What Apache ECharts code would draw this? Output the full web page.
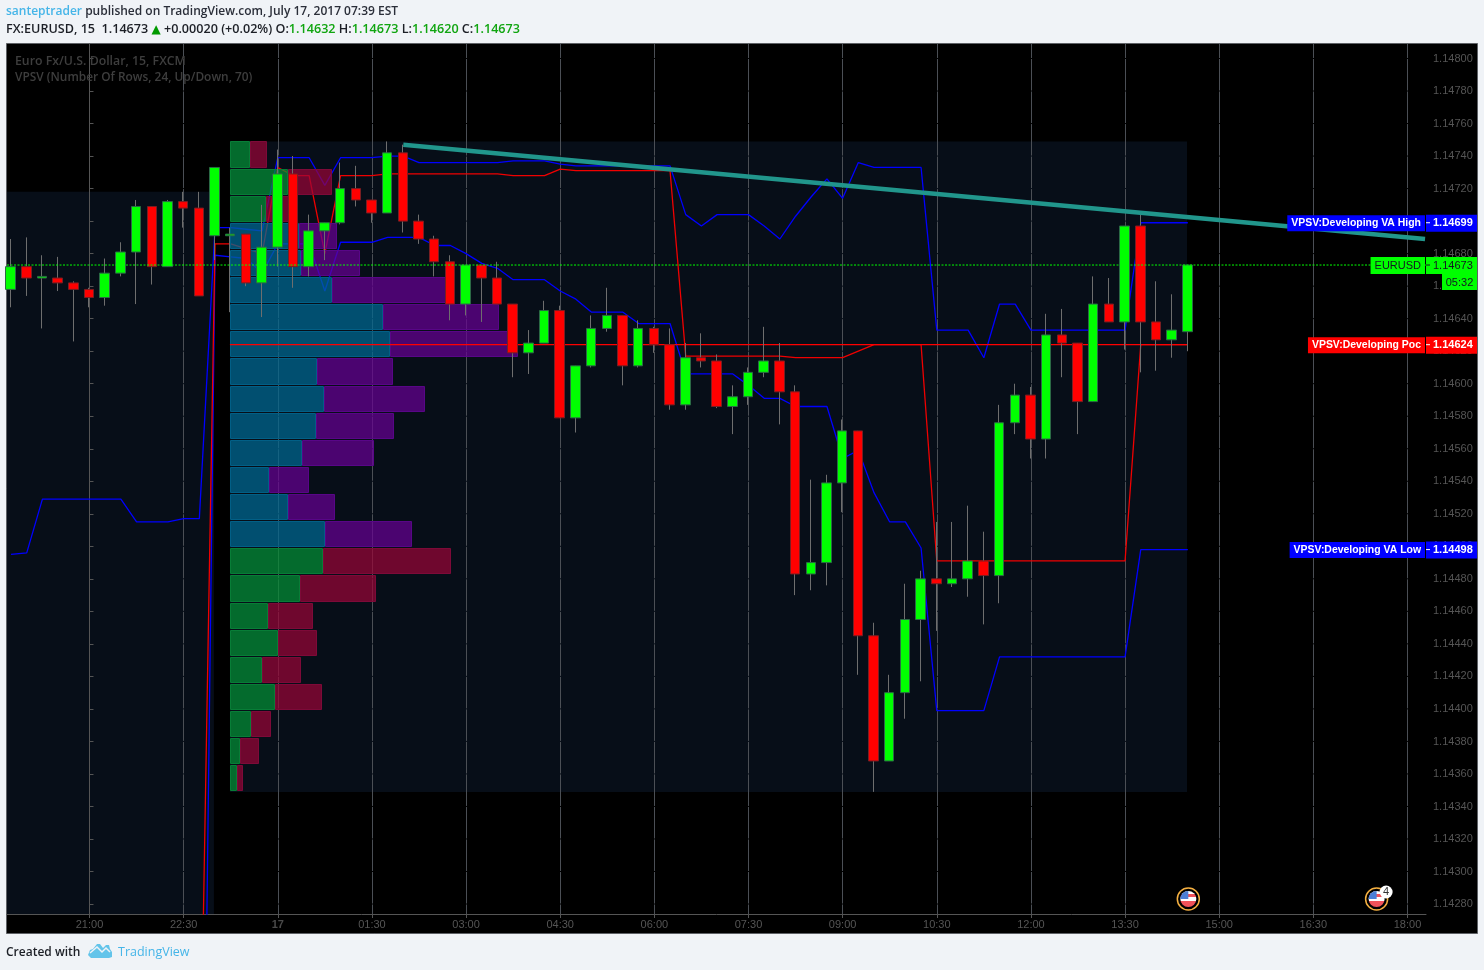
<!DOCTYPE html>
<html>
<head>
<meta charset="utf-8">
<style>html,body{margin:0;padding:0;background:#f0f3f7;}#c{width:1484px;height:970px;}</style>
<script src="https://cdn.jsdelivr.net/npm/echarts@6/dist/echarts.min.js"></script>
</head>
<body>
<div id="c"></div>
<script>
const firstBar = -5; // bar 0 is the 21:00 candle, bars are 15 minutes apart
const opens = [1.14658,1.14672,1.14665,1.14665,1.14662,1.14658,1.14653,1.14668,1.14681,1.14709,1.14672,1.14712,1.14708,1.14691,1.14691,1.14692,1.14662,1.14684,1.14729,1.14672,1.14694,1.14699,1.14720,1.14713,1.14705,1.14742,1.14700,1.14689,1.14675,1.14649,1.14673,1.14665,1.14649,1.14619,1.14625,1.14645,1.14579,1.14611,1.14634,1.14642,1.14611,1.14634,1.14624,1.14587,1.14616,1.14614,1.14586,1.14592,1.14607,1.14614,1.14595,1.14483,1.14490,1.14539,1.14571,1.14445,1.14368,1.14410,1.14455,1.14480,1.14477,1.14480,1.14491,1.14482,1.14576,1.14593,1.14566,1.14630,1.14625,1.14589,1.14649,1.14638,1.14697,1.14638,1.14627,1.14632];
const closes = [1.14672,1.14665,1.14666,1.14662,1.14658,1.14653,1.14668,1.14681,1.14709,1.14672,1.14712,1.14708,1.14654,1.14733,1.14692,1.14662,1.14684,1.14729,1.14672,1.14694,1.14699,1.14720,1.14713,1.14705,1.14742,1.14700,1.14689,1.14675,1.14649,1.14673,1.14665,1.14649,1.14619,1.14625,1.14645,1.14579,1.14611,1.14634,1.14642,1.14611,1.14634,1.14624,1.14587,1.14616,1.14614,1.14586,1.14592,1.14607,1.14614,1.14595,1.14483,1.14490,1.14539,1.14571,1.14445,1.14368,1.14410,1.14455,1.14480,1.14477,1.14480,1.14491,1.14482,1.14576,1.14593,1.14566,1.14630,1.14625,1.14589,1.14649,1.14638,1.14697,1.14638,1.14627,1.14633,1.14673];
const lows = [1.14647,1.14654,1.14634,1.14657,1.14626,1.14647,1.14648,1.14666,1.14649,1.14661,1.14672,1.14696,1.14654,1.14676,1.14644,1.14660,1.14641,1.14672,1.14659,1.14666,1.14676,1.14698,1.14709,1.14699,1.14705,1.14693,1.14686,1.14666,1.14639,1.14642,1.14638,1.14649,1.14604,1.14606,1.14625,1.14579,1.14570,1.14610,1.14632,1.14599,1.14610,1.14619,1.14584,1.14584,1.14610,1.14585,1.14569,1.14587,1.14604,1.14575,1.14470,1.14473,1.14476,1.14521,1.14421,1.14349,1.14368,1.14394,1.14417,1.14448,1.14475,1.14469,1.14452,1.14465,1.14569,1.14554,1.14554,1.14604,1.14569,1.14589,1.14638,1.14621,1.14607,1.14608,1.14616,1.14620];
const highs = [1.14689,1.14690,1.14679,1.14678,1.14663,1.14659,1.14677,1.14687,1.14713,1.14709,1.14713,1.14718,1.14718,1.14733,1.14696,1.14692,1.14710,1.14744,1.14740,1.14704,1.14699,1.14736,1.14734,1.14713,1.14749,1.14747,1.14704,1.14691,1.14679,1.14673,1.14673,1.14675,1.14649,1.14633,1.14651,1.14648,1.14611,1.14642,1.14659,1.14642,1.14639,1.14635,1.14634,1.14625,1.14631,1.14618,1.14599,1.14610,1.14635,1.14625,1.14599,1.14541,1.14544,1.14578,1.14571,1.14453,1.14421,1.14477,1.14485,1.14515,1.14515,1.14525,1.14509,1.14587,1.14600,1.14598,1.14643,1.14646,1.14625,1.14666,1.14665,1.14697,1.14704,1.14663,1.14655,1.14673];

const vaHigh = [1.14495,1.14496,1.14529,1.14529,1.14529,1.14529,1.14529,1.14529,1.14515,1.14515,1.14515,1.14517,1.14517,1.14696,1.14696,1.14695,1.14694,1.14739,1.14739,1.14739,1.14722,1.14739,1.14739,1.14739,1.14740,1.14740,1.14736,1.14736,1.14736,1.14736,1.14736,1.14736,1.14737,1.14737,1.14737,1.14735,1.14734,1.14734,1.14734,1.14734,1.14734,1.14734,1.14734,1.14704,1.14697,1.14704,1.14704,1.14704,1.14697,1.14689,1.14703,1.14715,1.14726,1.14714,1.14736,1.14733,1.14733,1.14733,1.14733,1.14633,1.14633,1.14633,1.14616,1.14649,1.14649,1.14633,1.14633,1.14633,1.14633,1.14633,1.14633,1.14633,1.14699,1.14699,1.14699,1.14699];
const vaLow = [null,null,null,null,null,null,null,null,null,null,null,null,1.13897,1.14679,1.14678,1.14677,1.14668,1.14686,1.14686,1.14686,1.14657,1.14687,1.14687,1.14687,1.14690,1.14690,1.14690,1.14685,1.14685,1.14680,1.14674,1.14671,1.14664,1.14664,1.14664,1.14657,1.14652,1.14644,1.14644,1.14644,1.14637,1.14637,1.14637,1.14606,1.14606,1.14606,1.14606,1.14599,1.14591,1.14591,1.14586,1.14586,1.14586,1.14554,1.14559,1.14533,1.14515,1.14515,1.14499,1.14399,1.14399,1.14399,1.14399,1.14432,1.14432,1.14432,1.14432,1.14432,1.14432,1.14432,1.14432,1.14432,1.14498,1.14498,1.14498,1.14498];
const pocLine = [null,null,null,null,null,null,null,null,null,null,null,null,1.14129,1.14686,1.14686,1.14683,1.14680,1.14733,1.14728,1.14728,1.14680,1.14728,1.14728,1.14728,1.14729,1.14729,1.14729,1.14729,1.14729,1.14729,1.14729,1.14729,1.14728,1.14728,1.14728,1.14732,1.14731,1.14731,1.14731,1.14731,1.14731,1.14731,1.14731,1.14617,1.14617,1.14617,1.14617,1.14617,1.14617,1.14617,1.14616,1.14616,1.14616,1.14616,1.14620,1.14624,1.14624,1.14624,1.14624,1.14491,1.14491,1.14491,1.14491,1.14491,1.14491,1.14491,1.14491,1.14491,1.14491,1.14491,1.14491,1.14491,1.14624,1.14624,1.14624,1.14624];

// Volume profile, 24 rows from the top of the session range downward
const vpTop = 1.14749, vpRowHeight = 0.0001668;
const vpUp = [20,58,36,69,71,102,153,160,87,94,86,72,39,58,95,93,70,38,48,32,45,21,10,7];
const vpDown = [17,44,30,38,59,115,116,128,76,101,78,72,40,47,87,128,76,45,39,39,47,20,19,6];
const vaFirstRow = 3, vaLastRow = 14;
const vpStartBar = 8.95, vpEndBar = 69.95;
const vpBottom = 1.14349, pocPrice = 1.14624;

const priorStartBar = -6, priorEndBar = 7.93, priorTop = 1.14718;
const trendBars = [20, 85.12], trendPrices = [1.14747, 1.14689];
const lastPrice = 1.14673;

const timeTicks = [0,6,12,18,24,30,36,42,48,54,60,66,72,78,84];
const timeLabels = ['21:00','22:30','17','01:30','03:00','04:30','06:00','07:30','09:00','10:30','12:00','13:30','15:00','16:30','18:00'];
const priceTicks = [1.1428,1.143,1.1432,1.1434,1.1436,1.1438,1.144,1.1442,1.1444,1.1446,1.1448,1.145,1.1452,1.1454,1.1456,1.1458,1.146,1.1462,1.1464,1.1466,1.1468,1.147,1.1472,1.1474,1.1476,1.1478,1.148];

const tagPrices = [1.14699, 1.14624, 1.14498, 1.14673];
const tagNames = ['VPSV:Developing VA High','VPSV:Developing Poc','VPSV:Developing VA Low','EURUSD'];
const tagFills = ['#0000ff','#ff0000','#0000ff','#00ff00'];
const tagInks = ['#ffffff','#ffffff','#ffffff','#131722'];
const countdown = '05:32';

const eventBars = [70, 82], eventCounts = [1, 4];

const AXIS = '#555555', LABEL = '#555555', ARIAL = '"Liberation Sans", Arial, sans-serif', OPEN = '"Open Sans", sans-serif';
const candleNudge = -0.03;
const barIdx = opens.map((_, k) => k + firstBar);
const pairs = arr => arr.map((v, k) => [barIdx[k], v]);
const rgba = {g:['rgba(4,144,54,.72)','#087d37'], r:['rgba(152,5,55,.72)','#7d0a38'], b:['rgba(0,105,147,.72)','#025f86'], p:['rgba(103,1,147,.72)','#580687']};

const chart = echarts.init(document.getElementById('c'), null, {renderer:'canvas'});

function line(name, data, color, z, width, type) {
  return {name, type:'line', data, z, showSymbol:false, symbol:'none', silent:true, animation:false,
    lineStyle:{color, width:width||1, type:type||'solid'}};
}

const option = {
  animation:false,
  backgroundColor:'#f0f3f7',
  grid:{left:7, top:44, width:1419, height:870, show:false},
  xAxis:[{
    type:'value', min:-5.258, max:85.18, z:1,
    axisLine:{onZero:false, lineStyle:{color:AXIS}},
    axisTick:{show:true, length:4, customValues:timeTicks, lineStyle:{color:AXIS}},
    axisLabel:{margin:5, color:LABEL, fontFamily:ARIAL, fontSize:11, customValues:timeTicks,
      formatter:v => { const s = timeLabels[timeTicks.indexOf(Math.round(v))]; return s === '17' ? '{b|17}' : s; },
      rich:{b:{fontWeight:'bold', color:'#4a4a4a', fontFamily:ARIAL, fontSize:11}}},
    splitLine:{show:true, lineStyle:{color:'#4b4f55', width:1, type:[31.52,1], dashOffset:17.52}}
  },{
    type:'value', min:-223, max:1196, show:false, splitLine:{show:false}
  }],
  yAxis:[{
    type:'value', position:'right', min:1.142739, max:1.1480892, z:1,
    axisLine:{show:true, lineStyle:{color:AXIS}},
    axisTick:{show:true, length:4, customValues:priceTicks, lineStyle:{color:AXIS}},
    axisLabel:{margin:7, color:LABEL, fontFamily:ARIAL, fontSize:11, customValues:priceTicks, padding:[2,0,0,0], formatter:v => v.toFixed(5)},
    splitLine:{show:false}
  }],
  graphic:{elements:[
    {type:'rect', z:-10, silent:true, shape:{x:6.5,y:43.5,width:1471,height:890}, style:{fill:'#000', stroke:'#5e6166', lineWidth:1}},
    {type:'text', z:1, silent:true, x:6, y:12, style:{verticalAlign:'middle', text:'{a|santeptrader}{t| published on TradingView.com, July 17, 2017 07:39 EST}',
      rich:{a:{fontFamily:OPEN, fontSize:12, fontWeight:600, fill:'#45b5e8'}, t:{fontFamily:OPEN, fontSize:12, fontWeight:600, fill:'#2a2e39'}}}},
    {type:'text', z:1, silent:true, x:6, y:29.5, style:{verticalAlign:'middle',
      text:'{t|FX:EURUSD, 15  1.14673 }{u|▲}{t| +0.00020 (+0.02%) O:}{g|1.14632}{t| H:}{g|1.14673}{t| L:}{g|1.14620}{t| C:}{g|1.14673}',
      rich:{t:{fontFamily:OPEN, fontSize:12.6, fontWeight:600, fill:'#1c1f26'}, g:{fontFamily:OPEN, fontSize:12.6, fontWeight:600, fill:'#10a510'}, u:{fontFamily:'"DejaVu Sans"', fontSize:12, fill:'#009a00'}}}},
    {type:'text', z:2, silent:true, x:15, y:61, style:{text:'Euro Fx/U.S. Dollar, 15, FXCM', verticalAlign:'middle', fontFamily:OPEN, fontSize:12.3, fontWeight:600, fill:'#3e3e3e'}},
    {type:'text', z:2, silent:true, x:15, y:78, style:{text:'VPSV (Number Of Rows, 24, Up/Down, 70)', verticalAlign:'middle', fontFamily:OPEN, fontSize:11.9, fontWeight:600, fill:'#3e3e3e'}},
    {type:'text', z:1, silent:true, x:6, y:952.5, style:{text:'Created with', verticalAlign:'middle', fontFamily:OPEN, fontSize:12, fontWeight:600, fill:'#1c1f26'}},
    {type:'text', z:1, silent:true, x:118, y:952.5, style:{text:'TradingView', verticalAlign:'middle', fontFamily:OPEN, fontSize:12.5, fontWeight:500, fill:'#45b5e8'}},
    {type:'polygon', z:1, silent:true, shape:{points:[[88,955],[90,950],[93,949],[97,944],[100,944],[103,948],[106,945],[109,945],[110,949],[112,952],[112,957],[109,958],[91,958]]}, style:{fill:'#63c4ea'}},
    {type:'polyline', z:2, silent:true, shape:{points:[[90,953],[97,947],[102,952],[106,948],[110,952]]}, style:{fill:'none', stroke:'#f0f3f7', lineWidth:1.5}}
  ]},
  series:[
    // session background panels
    {type:'custom', name:'panels', z:0, silent:true, clip:true,
      data:[[priorStartBar, priorEndBar, priorTop, 1.142],[vpStartBar, vpEndBar, vpTop, vpBottom]],
      renderItem:(p, api) => {
        const a = api.coord([api.value(0), api.value(2)]), b = api.coord([api.value(1), api.value(3)]);
        const cs = p.coordSys, x0 = Math.max(a[0], cs.x), y1 = Math.min(b[1], cs.y + cs.height);
        return {type:'rect', shape:{x:x0, y:a[1], width:b[0]-x0, height:y1-a[1]}, style:{fill:'#070e18'}};
      }},
    line('VA High', pairs(vaHigh), '#0000ff', 2, 1.3),
    line('VA Low', pairs(vaLow), '#0000ff', 2, 1.3),
    line('POC', pairs(pocLine), '#f00000', 2, 1.3),
    // volume profile rows, measured on the hidden volume axis
    {type:'custom', name:'Volume profile', z:3, silent:true, xAxisIndex:1, yAxisIndex:0, clip:false,
      data:vpUp.map((u, k) => [u, vpDown[k], vpTop - k*vpRowHeight, vpTop - (k+1)*vpRowHeight]),
      renderItem:(p, api) => {
        const k = p.dataIndex, inVA = k >= vaFirstRow && k <= vaLastRow;
        const up = api.value(0), dn = api.value(1);
        const t = api.coord([0, api.value(2)]), u = api.coord([up, api.value(3)]), d = api.coord([up + dn, api.value(3)]);
        const L = Math.round(t[0]), T = Math.round(t[1]), B = Math.round(u[1]);
        const upC = inVA ? rgba.b : rgba.g, dnC = inVA ? rgba.p : rgba.r;
        return {type:'group', children:[
          {type:'rect', shape:{x:L+.5, y:T+.5, width:Math.round(u[0])-L-1, height:B-T-2}, style:{fill:upC[0], stroke:upC[1], lineWidth:1}},
          {type:'rect', shape:{x:Math.round(u[0])+.5, y:T+.5, width:Math.round(d[0])-Math.round(u[0])-1, height:B-T-2}, style:{fill:dnC[0], stroke:dnC[1], lineWidth:1}}
        ]};
      }},
    line('Developing POC row', [[vpStartBar,pocPrice],[vpEndBar,pocPrice]], '#ff0000', 4, 1.2),
    // wicks
    {type:'candlestick', name:'EURUSD wicks', z:5, silent:true, barWidth:1,
      data:opens.map((o, k) => [barIdx[k]+candleNudge, o, closes[k], lows[k], highs[k]]),
      itemStyle:{color:'#6e6e6e', color0:'#6e6e6e', borderColor:'#6e6e6e', borderColor0:'#6e6e6e', borderWidth:1}},
    // bodies
    {type:'candlestick', name:'EURUSD', z:6, silent:true, barWidth:10,
      data:opens.map((o, k) => [barIdx[k]+candleNudge, o, closes[k], Math.min(o, closes[k]), Math.max(o, closes[k])]),
      itemStyle:{color:'#00ff00', color0:'#ff0000', borderColor:'#2b6a45', borderColor0:'#7a1e22', borderWidth:1}},
    line('Last price', [[-5.258,lastPrice],[85.18,lastPrice]], '#00ff00', 7, 1, [2,1.5]),
    line('Trend', trendBars.map((b, k) => [b, trendPrices[k]]), '#21968c', 8, 4.5),
    // price tags on the scale
    {type:'custom', name:'Price tags', z:10, silent:true, clip:false,
      data:tagPrices.map(p => [0, p]),
      renderItem:(p, api) => {
        const k = p.dataIndex, y = api.coord([0, api.value(1)])[1], R = p.coordSys.x + p.coordSys.width;
        const fg = tagInks[k], bg = tagFills[k];
        const kids = [
          {type:'text', style:{x:R-1, y:y+.5, align:'right', verticalAlign:'middle', text:tagNames[k], fill:fg,
            font:k===3 ? '11px '+ARIAL : 'bold 10.45px '+ARIAL, backgroundColor:bg, padding:[3,4,3,4]}},
          {type:'rect', shape:{x:R, y:y-8, width:51, height:17}, style:{fill:bg}},
          {type:'line', shape:{x1:R, y1:y, x2:R+4, y2:y}, style:{stroke:k===3?'#131722':'#ffffff', lineWidth:1}},
          {type:'text', style:{x:R+7, y:y+.5, align:'left', verticalAlign:'middle', text:api.value(1).toFixed(5), fill:fg, font:(k===3?'':'bold ')+'11px '+ARIAL}}
        ];
        if (k === 3) {
          kids.push({type:'rect', shape:{x:R+16, y:y+9, width:35, height:16}, style:{fill:bg}});
          kids.push({type:'text', style:{x:R+33.5, y:y+17.5, align:'center', verticalAlign:'middle', text:countdown, fill:fg, font:'11px '+ARIAL}});
        }
        return {type:'group', children:kids};
      }},
    // economic event flags at the foot of the chart
    {type:'custom', name:'Events', z:9, silent:true, clip:false,
      data:eventBars.map((b, k) => [b, eventCounts[k]]),
      renderItem:(p, api) => {
        const cx = api.coord([api.value(0), 1.143])[0] + .5, cy = p.coordSys.y + p.coordSys.height - 15, n = api.value(1);
        const stripes = new echarts.graphic.LinearGradient(0,0,0,1,[
          {offset:0,color:'#ffffff'},{offset:.2,color:'#ffffff'},{offset:.2,color:'#f0525a'},{offset:.38,color:'#f0525a'},
          {offset:.38,color:'#ffffff'},{offset:.6,color:'#ffffff'},{offset:.6,color:'#f0525a'},{offset:1,color:'#f0525a'}]);
        const kids = [
          {type:'circle', shape:{cx, cy, r:11}, style:{fill:'#000', stroke:'#f5b041', lineWidth:1.5}},
          {type:'circle', shape:{cx, cy, r:8}, style:{fill:stripes}},
          {type:'sector', shape:{cx, cy, r0:0, r:8, startAngle:Math.PI, endAngle:Math.PI*1.5}, style:{fill:'#4c7fd6'}}
        ];
        if (n > 1) {
          kids.push({type:'circle', shape:{cx:cx+9.5, cy:cy-7, r:6.5}, style:{fill:'#fff'}});
          kids.push({type:'text', style:{x:cx+9.5, y:cy-7, align:'center', verticalAlign:'middle', text:String(n), fill:'#333', font:'11px '+ARIAL}});
        }
        return {type:'group', children:kids};
      }}
  ]
};
chart.setOption(option);
</script>
</body>
</html>
